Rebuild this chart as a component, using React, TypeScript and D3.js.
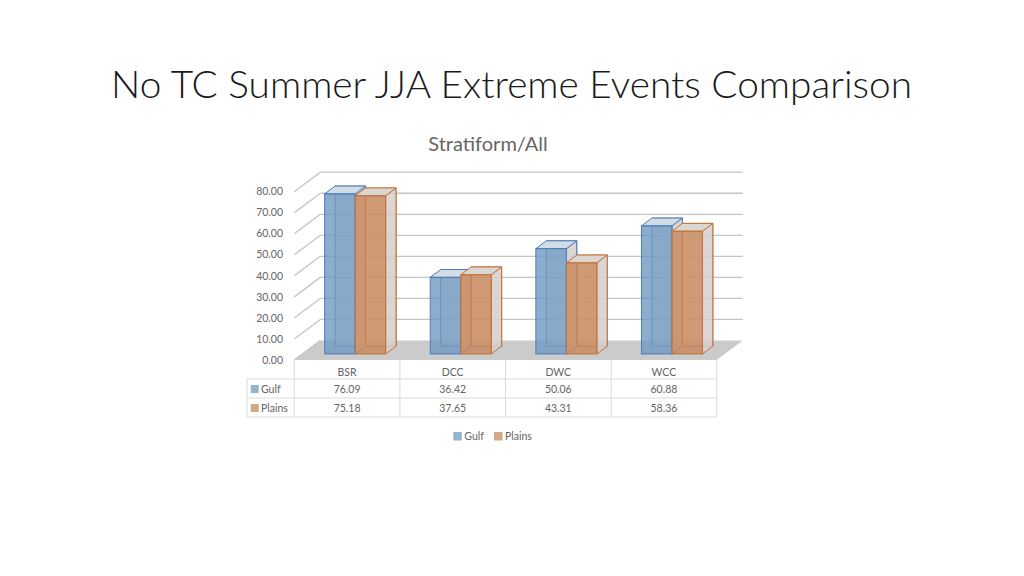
import React from "react";
import * as d3 from "d3";

const categories = ["BSR", "DCC", "DWC", "WCC"];
const seriesNames = ["Gulf", "Plains"];
const gulfValues = [76.09, 36.42, 50.06, 60.88];
const plainsValues = [75.18, 37.65, 43.31, 58.36];
const yTicks = [0, 10, 20, 30, 40, 50, 60, 70, 80];

const seriesValues = [gulfValues, plainsValues];
const seriesStyle = [
  { fill: "#6f98c0", stroke: "#4a7ebb", top: "#d3dbe4", legend: "#93b6d0" },
  { fill: "#c8865a", stroke: "#c0733a", top: "#dcd6d2", legend: "#d2aa82" },
];

const W = 1024;
const H = 576;
// 3D geometry
const DX = 26; // depth offset x
const DY = -19.5; // depth offset y
const FRONT_Y0 = 360;
const BAR_F0 = 0.31; // bar front plane depth fraction
const BAR_D = 0.4; // bar depth fraction

export default function App() {
  const x = d3.scaleBand<string>().domain(categories).range([294.3, 716.7]);
  const h = d3.scaleLinear().domain([0, 80]).range([0, 168.3]);
  const inner = d3
    .scaleBand<string>()
    .domain(seriesNames)
    .range([0, 61])
    .paddingInner(0);
  const fmt = d3.format(".2f");

  const x0 = x.range()[0];
  const x1 = x.range()[1];
  const txt = "#656565";
  const font = "Lato, 'Open Sans', sans-serif";

  const pt = (px: number, py: number) => `${px},${py}`;

  const bars: JSX.Element[] = [];
  categories.forEach((c, ci) => {
    const bandStart = x(c)! + (x.bandwidth() - 61) / 2;
    seriesNames.forEach((s, si) => {
      const v = seriesValues[si][ci];
      const st = seriesStyle[si];
      const fx = bandStart + inner(s)! + BAR_F0 * DX;
      const fy = FRONT_Y0 + BAR_F0 * DY;
      const w = inner.bandwidth();
      const bh = h(v);
      const ddx = BAR_D * DX;
      const ddy = BAR_D * DY;
      const top = fy - bh;
      bars.push(
        <g key={`${c}-${s}`}>
          {/* back face */}
          <polygon
            points={[
              pt(fx + ddx, fy + ddy),
              pt(fx + w + ddx, fy + ddy),
              pt(fx + w + ddx, top + ddy),
              pt(fx + ddx, top + ddy),
            ].join(" ")}
            fill="#d8d4d2"
            fillOpacity={0.45}
            stroke={st.stroke}
            strokeWidth={1}
          />
          {/* right side face */}
          <polygon
            points={[
              pt(fx + w, fy),
              pt(fx + w + ddx, fy + ddy),
              pt(fx + w + ddx, top + ddy),
              pt(fx + w, top),
            ].join(" ")}
            fill="#d6d0ce"
            fillOpacity={0.8}
            stroke={st.stroke}
            strokeWidth={1}
          />
          {/* top face */}
          <polygon
            points={[
              pt(fx, top),
              pt(fx + w, top),
              pt(fx + w + ddx, top + ddy),
              pt(fx + ddx, top + ddy),
            ].join(" ")}
            fill={st.top}
            stroke={st.stroke}
            strokeWidth={1}
          />
          {/* front face */}
          <rect
            x={fx}
            y={top}
            width={w}
            height={bh}
            fill={st.fill}
            fillOpacity={0.8}
            stroke={st.stroke}
            strokeWidth={1}
          />
        </g>
      );
    });
  });

  return (
    <svg width={W} height={H} style={{ position: "absolute", left: 0, top: 0 }}>
      <rect width={W} height={H} fill="#ffffff" />
      <text
        x={111}
        y={98}
        fontFamily={font}
        fontSize={38}
        fontWeight={300}
        fill="#1a1a1a"
        textLength={801}
        lengthAdjust="spacingAndGlyphs"
      >
        No TC Summer JJA Extreme Events Comparison
      </text>
      <text
        x={488}
        y={151}
        textAnchor="middle"
        fontFamily={font}
        fontSize={20}
        fill={txt}
      >
        Stratiform/All
      </text>

      {/* floor */}
      <polygon
        points={[
          pt(x0, FRONT_Y0),
          pt(x1, FRONT_Y0),
          pt(x1 + DX, FRONT_Y0 + DY),
          pt(x0 + DX, FRONT_Y0 + DY),
        ].join(" ")}
        fill="#cbcbcb"
      />

      {/* gridlines: back wall + left wall */}
      {yTicks.map((t) => {
        const yf = FRONT_Y0 - h(t);
        const yb = yf + DY;
        return (
          <g key={t}>
            <line
              x1={x0}
              y1={yf}
              x2={x0 + DX}
              y2={yb}
              stroke="#c4c4c4"
              strokeWidth={1.3}
            />
            {t > 0 && (
              <line
                x1={x0 + DX}
                y1={yb}
                x2={x1 + DX}
                y2={yb}
                stroke="#c4c4c4"
                strokeWidth={1.3}
              />
            )}
            <text
              x={283}
              y={yf}
              dy="0.35em"
              textAnchor="end"
              fontFamily={font}
              fontSize={10.5}
              fill={txt}
            >
              {fmt(t)}
            </text>
          </g>
        );
      })}

      {bars}

      {/* data table */}
      <g stroke="#dadada" strokeWidth={1}>
        {[379, 398, 417].map((yy) => (
          <line key={yy} x1={247} y1={yy} x2={x1} y2={yy} />
        ))}
        <line x1={247} y1={379} x2={247} y2={417} />
        {[...categories.map((c) => x(c)!), x1].map((xx, i) => (
          <line key={i} x1={xx} y1={FRONT_Y0} x2={xx} y2={417} />
        ))}
      </g>
      {categories.map((c, ci) => {
        const cx = x(c)! + x.bandwidth() / 2;
        return (
          <g key={c} fontFamily={font} fontSize={10.5} fill={txt} textAnchor="middle">
            <text x={cx} y={372} dy="0.35em">
              {c}
            </text>
            <text x={cx} y={389} dy="0.35em">
              {gulfValues[ci].toFixed(2)}
            </text>
            <text x={cx} y={408} dy="0.35em">
              {plainsValues[ci].toFixed(2)}
            </text>
          </g>
        );
      })}
      {seriesNames.map((s, si) => (
        <g key={s}>
          <rect
            x={250.7}
            y={(si === 0 ? 389 : 408) - 4}
            width={8}
            height={8}
            fill={seriesStyle[si].legend}
          />
          <text
            x={261}
            y={si === 0 ? 389 : 408}
            dy="0.35em"
            fontFamily={font}
            fontSize={10.5}
            fill={txt}
          >
            {s}
          </text>
        </g>
      ))}

      {/* legend */}
      {seriesNames.map((s, si) => {
        const lx = si === 0 ? 453.3 : 494;
        return (
          <g key={`lg-${s}`}>
            <rect x={lx} y={432} width={8.5} height={8.5} fill={seriesStyle[si].legend} />
            <text
              x={lx + 11}
              y={436.2}
              dy="0.35em"
              fontFamily={font}
              fontSize={10.5}
              fill={txt}
            >
              {s}
            </text>
          </g>
        );
      })}
    </svg>
  );
}
